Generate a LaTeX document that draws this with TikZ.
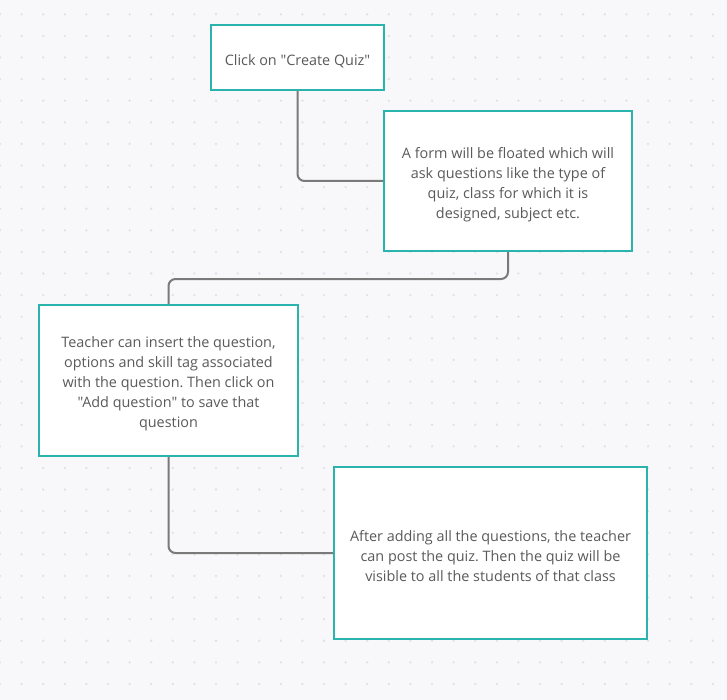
\documentclass[tikz,border=0pt]{standalone}
\usepackage{fontspec}
\setmainfont{Open Sans}[Ligatures=TeXOff]
\definecolor{bgc}{HTML}{F8F8FA}
\definecolor{dotc}{HTML}{E1E1E6}
\definecolor{tealc}{HTML}{2BB3AE}
\definecolor{linkc}{HTML}{7A7A7A}
\definecolor{txtc}{HTML}{5A5A5A}
\newcommand{\topstrut}{\rule{0pt}{17.5pt}}
\frenchspacing
\begin{document}
\begin{tikzpicture}[x=1pt,y=-1pt,
  box/.style={draw=tealc, line width=2pt, fill=white, align=center, text=txtc,
    font=\fontsize{14.4}{20}\selectfont, inner sep=0pt, shape=rectangle},
  link/.style={draw=linkc, line width=2pt, rounded corners=7pt}]
\fill[bgc] (0,0) rectangle (727,700);
\useasboundingbox (0,0) rectangle (727,700);
\foreach \i in {0,...,33} {
  \foreach \j in {0,...,31} {
    \fill[dotc] (21.6*\i, 14.3+21.6*\j) circle (1.3);
  }
}
\node[box, minimum width=173pt, minimum height=65pt] (b1) at (297.5,57.5)
  {\topstrut Click on "Create Quiz"};
\node[box, minimum width=248pt, minimum height=140pt] (b2) at (508,181)
  {\topstrut A form will be floated which will\\ask questions like the type of\\quiz, class for which it is\\designed, subject etc.};
\node[box, minimum width=259pt, minimum height=151pt] (b3) at (168.5,380.5)
  {\topstrut Teacher can insert the question,\\options and skill tag associated\\with the question. Then click on\\"Add question" to save that\\question};
\node[box, minimum width=313pt, minimum height=172pt] (b4) at (490.5,553)
  {\topstrut After adding all the questions, the teacher\\can post the quiz. Then the quiz will be\\visible to all the students of that class};
\path (b2.south) ++(0,27) coordinate (m);
\draw[link] (b1.south) |- (b2.west);
\draw[link] (b2.south) -- (m) -| (b3.north);
\draw[link] (b3.south) |- (b4.west);
\end{tikzpicture}
\end{document}
